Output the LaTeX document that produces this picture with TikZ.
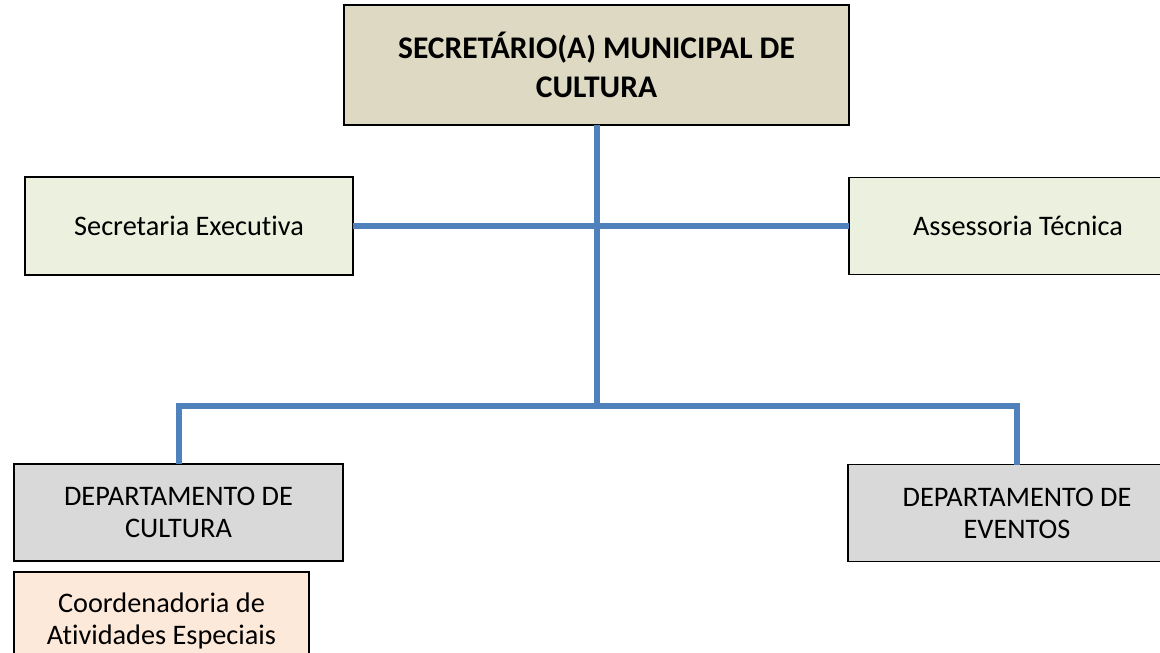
\documentclass[tikz,border=0pt]{standalone}
\usepackage{fontspec}
\setmainfont{Carlito}[Ligatures=NoCommon]
\usetikzlibrary{positioning}

\definecolor{linkblue}{HTML}{4F81BD}
\definecolor{headfill}{HTML}{DDD9C3}
\definecolor{stafffill}{HTML}{EBF1DE}
\definecolor{deptfill}{HTML}{D9D9D9}
\definecolor{coordfill}{HTML}{FDE9D9}

\begin{document}
\begin{tikzpicture}[x=1pt, y=-1pt, node distance={11pt},
        box/.style = {draw, line width=1.5pt, inner sep=0pt, outer sep=0pt, align=center,
                      font=\fontsize{28.3}{32}\selectfont},
        link/.style = {linkblue, line width=6pt}]
        \useasboundingbox (0,0) rectangle (1160,653);
        \clip (0,0) rectangle (1160,653);

        \node[box, fill=headfill, minimum width=505pt, minimum height=120pt,
              font=\fontsize{31.5}{39}\selectfont\bfseries] (head) at (596.5,65)
              {SECRETÁRIO(A) MUNICIPAL DE\\CULTURA};
        \node[box, fill=stafffill, minimum width=328pt, minimum height=98pt] (exec) at (189,226) {Secretaria Executiva};
        \node[box, fill=stafffill, minimum width=338pt, minimum height=97pt] (tech) at (1018,226) {Assessoria Técnica};

        \node[box, fill=deptfill, minimum width=329pt, minimum height=97pt] (cult) at (178.5,512.5) {DEPARTAMENTO DE\\CULTURA};
        \node[box, fill=deptfill, minimum width=338pt, minimum height=97pt] (evt) at (1017,513) {DEPARTAMENTO DE\\EVENTOS};
        \node[box, fill=coordfill, minimum width=295pt, minimum height=97pt] (coord) [below=of cult.south west, anchor=north west] {Coordenadoria de\\Atividades Especiais};

        \coordinate (split) at (596.5,406);

        \draw[link] (exec.east) -- (tech.west);
        \draw[link] (head.south) -- (split);
        \draw[link] (cult.north) |- (split) -| (evt.north);
    \end{tikzpicture}
\end{document}
